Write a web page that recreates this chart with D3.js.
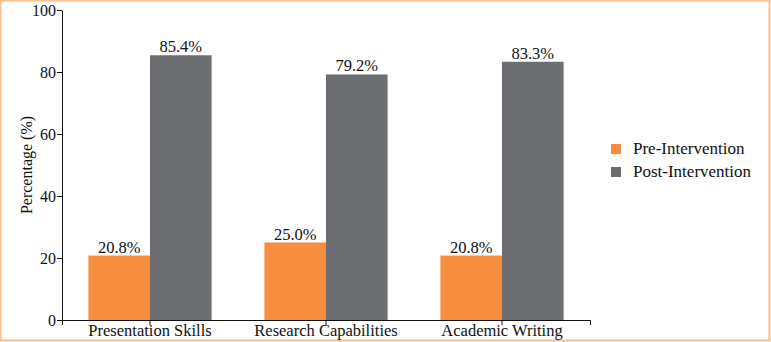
<!DOCTYPE html>
<html>
<head>
<meta charset="utf-8">
<script src="https://cdn.jsdelivr.net/npm/d3@7"></script>
<style>
  body { margin: 0; background: #fff; }
  svg text { font-family: "Liberation Serif", "DejaVu Serif", serif; fill: #111; }
</style>
</head>
<body>
<svg id="chart"></svg>
<script>
// chart data
const categories = ["Presentation Skills", "Research Capabilities", "Academic Writing"];
const seriesNames = ["Pre-Intervention", "Post-Intervention"];
const preValues = [20.8, 25.0, 20.8];
const postValues = [85.4, 79.2, 83.3];
const yTicks = [0, 20, 40, 60, 80, 100];
const colors = ["#f68d3f", "#6d6e71"];

const width = 771, height = 342;
const margin = {top: 10, bottom: 22, left: 62, right: 181};

const svg = d3.select("#chart")
    .attr("width", width)
    .attr("height", height);

// frame
svg.append("rect")
    .attr("x", 0.5).attr("y", 0.5)
    .attr("width", width - 2).attr("height", height - 2)
    .attr("fill", "none")
    .attr("stroke", "#f9bf8c")
    .attr("stroke-width", 2);

const rows = categories.map((c, i) => ({cat: c, values: [preValues[i], postValues[i]]}));

const xScale = d3.scaleBand()
    .domain(categories)
    .range([margin.left, width - margin.right])
    .paddingInner(0.3)
    .paddingOuter(0.15);

const xSub = d3.scaleBand()
    .domain(seriesNames)
    .range([0, xScale.bandwidth()]);

const yScale = d3.scaleLinear()
    .domain([0, 100])
    .range([height - margin.bottom, margin.top]);

// bars
const groups = svg.selectAll("g.group")
    .data(rows)
    .join("g")
    .attr("class", "group")
    .attr("transform", d => `translate(${xScale(d.cat)},0)`);

groups.selectAll("rect")
    .data(d => d.values.map((v, j) => ({name: seriesNames[j], value: v, j: j})))
    .join("rect")
    .attr("x", d => xSub(d.name))
    .attr("y", d => yScale(d.value))
    .attr("width", xSub.bandwidth())
    .attr("height", d => yScale(0) - yScale(d.value))
    .attr("fill", d => colors[d.j]);

groups.selectAll("text.val")
    .data(d => d.values.map((v, j) => ({name: seriesNames[j], value: v})))
    .join("text")
    .attr("class", "val")
    .attr("x", d => xSub(d.name) + xSub.bandwidth() / 2)
    .attr("y", d => yScale(d.value) - 3)
    .attr("text-anchor", "middle")
    .style("font-size", "16.5px")
    .text(d => d.value.toFixed(1) + "%");

// axes
const yAxis = svg.append("g")
    .attr("transform", `translate(${margin.left},0)`)
    .call(d3.axisLeft(yScale).tickValues(yTicks).tickSize(5).tickSizeOuter(0));
yAxis.selectAll("text").style("font-size", "16px").attr("x", -6);

// x axis: ticks at group centres plus end ticks
const xAxis = svg.append("g")
    .attr("transform", `translate(0,${height - margin.bottom})`)
    .call(d3.axisBottom(xScale).tickSize(5).tickSizeOuter(5));
xAxis.selectAll("text").style("font-size", "16.5px").attr("y", 4).attr("dy", "0.71em");
svg.selectAll(".domain, .tick line").attr("stroke", "#111");

// y label
svg.append("text")
    .attr("transform", `translate(32,${(margin.top + height - margin.bottom) / 2}) rotate(-90)`)
    .attr("text-anchor", "middle")
    .style("font-size", "16px")
    .text("Percentage (%)");

// legend
const legend = svg.append("g").attr("transform", "translate(611,144)");
seriesNames.forEach((name, i) => {
  const row = legend.append("g").attr("transform", `translate(0,${i * 23})`);
  row.append("rect").attr("width", 10).attr("height", 10).attr("fill", colors[i]);
  row.append("text").attr("x", 22).attr("y", 10).style("font-size", "17px").text(name);
});
</script>
</body>
</html>
